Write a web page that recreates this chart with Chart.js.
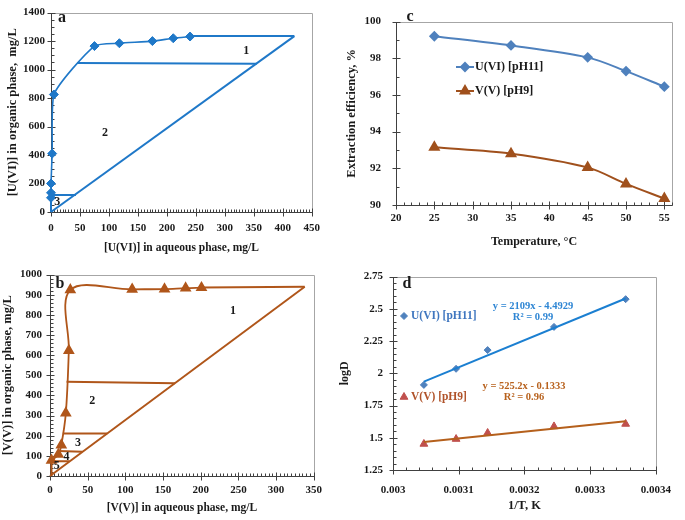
<!DOCTYPE html>
<html>
<head>
<meta charset="utf-8">
<script src="https://cdn.jsdelivr.net/npm/chart.js@4.4.1/dist/chart.umd.min.js"></script>
<style>
  html, body { margin: 0; padding: 0; background: #fff; }
  #page { position: relative; width: 685px; height: 520px; overflow: hidden; }
  .panel { position: absolute; }
</style>
</head>
<body>
<div id="page">
  <canvas id="chartA" class="panel" width="330" height="260" style="left:0;top:0;width:330px;height:260px"></canvas>
  <canvas id="chartC" class="panel" width="355" height="260" style="left:330px;top:0;width:355px;height:260px"></canvas>
  <canvas id="chartB" class="panel" width="330" height="260" style="left:0;top:260px;width:330px;height:260px"></canvas>
  <canvas id="chartD" class="panel" width="355" height="260" style="left:330px;top:260px;width:355px;height:260px"></canvas>
</div>
<script>
// --- panel a: U(VI) isotherm + operating line
const aEqX = [0, 0, 0, 2, 5, 75, 118, 175, 211, 240];
const aEqY = [100, 135, 200, 410, 825, 1165, 1185, 1200, 1220, 1232];
const aOpX = [0, 420];
const aOpY = [0, 1235];
const aStep1X = [240, 420];
const aStep1Y = [1235, 1235];
const aStep2X = [45, 355];
const aStep2Y = [1046, 1040];
const aStep3X = [0, 0, 43];
const aStep3Y = [0, 120, 120];
const aXTicks = [0, 50, 100, 150, 200, 250, 300, 350, 400, 450];
const aYTicks = [0, 200, 400, 600, 800, 1000, 1200, 1400];

// --- panel b: V(V) isotherm + operating line
const bEqX = [2, 11, 15, 21, 25, 27, 109, 152, 180, 201];
const bEqY = [78, 107, 154, 312, 623, 924, 927, 928, 933, 935];
const bOpX = [0, 338];
const bOpY = [0, 940];
const bStep1X = [201, 338];
const bStep1Y = [936, 940];
const bStep2X = [22, 166];
const bStep2Y = [468, 461];
const bStep3X = [17, 76];
const bStep3Y = [211, 211];
const bStep4X = [11, 43];
const bStep4Y = [124, 121];
const bStep5X = [2, 2, 26];
const bStep5Y = [0, 73, 73];
const bXTicks = [0, 50, 100, 150, 200, 250, 300, 350];
const bYTicks = [0, 100, 200, 300, 400, 500, 600, 700, 800, 900, 1000];

// --- panel c: extraction efficiency vs temperature
const cTemp = [25, 35, 45, 50, 55];
const cU = [99.2, 98.7, 98.05, 97.3, 96.45];
const cV = [93.15, 92.8, 92.05, 91.15, 90.35];
const cXTicks = [20, 25, 30, 35, 40, 45, 50, 55];
const cYTicks = [90, 92, 94, 96, 98, 100];

// --- panel d: logD vs 1/T
const dInvT = [0.003047, 0.003096, 0.003144, 0.003245, 0.003354];
const dU = [1.91, 2.035, 2.18, 2.36, 2.575];
const dV = [1.452, 1.49, 1.537, 1.588, 1.607];
const dTrendX = [0.003047, 0.003354];
const dUTrend = [1.935, 2.58];
const dVTrend = [1.468, 1.628];
const dXTicks = [0.003, 0.0031, 0.0032, 0.0033, 0.0034];
const dXLabels = ['0.003', '0.0031', '0.0032', '0.0033', '0.0034'];
const dYTicks = [1.25, 1.5, 1.75, 2, 2.25, 2.5, 2.75];
const dYLabels = ['1.25', '1.5', '1.75', '2', '2.25', '2.5', '2.75'];

const SERIF = '"Liberation Serif", "Times New Roman", serif';
Chart.defaults.font.family = SERIF;
Chart.defaults.font.weight = 'bold';
Chart.defaults.color = '#1a1a1a';

const xy = (xs, ys) => xs.map((x, i) => ({ x: x, y: ys[i] }));

// Excel-like frame: black axes, grey box, crossing major ticks, inside minor ticks
const excelFrame = {
    id: 'excelFrame',
    beforeDatasetsDraw(chart, args, opts) {
        const { ctx, chartArea: a, scales: { x, y } } = chart;
        const L = Math.round(a.left) + 0.5, R = Math.round(a.right) + 0.5;
        const T = Math.round(a.top) + 0.5, B = Math.round(a.bottom) + 0.5;
        ctx.save();
        ctx.lineWidth = 1;
        ctx.strokeStyle = '#a6a6a6';
        ctx.beginPath();
        ctx.moveTo(L, T); ctx.lineTo(R, T); ctx.lineTo(R, B);
        ctx.stroke();
        ctx.strokeStyle = '#404040';
        ctx.beginPath();
        ctx.moveTo(L, T); ctx.lineTo(L, B); ctx.lineTo(R, B);
        x.ticks.forEach(t => {
            const p = Math.round(x.getPixelForValue(t.value)) + 0.5;
            ctx.moveTo(p, B - 4); ctx.lineTo(p, B + 4);
        });
        y.ticks.forEach(t => {
            const p = Math.round(y.getPixelForValue(t.value)) + 0.5;
            ctx.moveTo(L - 4, p); ctx.lineTo(L + 4, p);
        });
        const eps = 1e-6;
        for (let i = 0; ; i++) {
            const v = x.min + i * opts.minorX;
            if (v > x.max + opts.minorX * eps) break;
            const p = Math.round(x.getPixelForValue(v)) + 0.5;
            ctx.moveTo(p, B); ctx.lineTo(p, B - 3);
        }
        for (let i = 0; ; i++) {
            const v = y.min + i * opts.minorY;
            if (v > y.max + opts.minorY * eps) break;
            const p = Math.round(y.getPixelForValue(v)) + 0.5;
            ctx.moveTo(L, p); ctx.lineTo(L + 3, p);
        }
        ctx.stroke();
        ctx.restore();
    }
};

// free text, stage numbers and the in-plot legends
const notes = {
    id: 'notes',
    afterDatasetsDraw(chart, args, opts) {
        const { ctx, scales } = chart;
        (opts.items || []).forEach(n => {
            let px = n.x, py = n.y;
            if (n.data) {
                px = scales.x.getPixelForValue(n.x);
                py = scales.y.getPixelForValue(n.y);
            }
            ctx.save();
            if (n.lineFrom !== undefined) {
                ctx.strokeStyle = n.markColor;
                ctx.lineWidth = 2;
                ctx.beginPath();
                ctx.moveTo(n.lineFrom, py); ctx.lineTo(n.lineTo, py);
                ctx.stroke();
            }
            if (n.marker) {
                ctx.fillStyle = n.markColor;
                ctx.strokeStyle = n.markColor;
                Chart.helpers.drawPoint(ctx, { pointStyle: n.marker, radius: n.markSize || 4, rotation: 0, borderWidth: 1 }, n.markX, py);
            }
            ctx.font = n.font || ('bold 12px ' + SERIF);
            ctx.fillStyle = n.color || '#1a1a1a';
            ctx.textAlign = n.align || 'center';
            ctx.textBaseline = 'middle';
            ctx.fillText(n.text, px, py);
            ctx.restore();
        });
    }
};

Chart.register(excelFrame, notes);

function makeAxis(cfg) {
    const isX = cfg.pos === 'x';
    return {
        type: 'linear',
        position: isX ? 'bottom' : 'left',
        min: cfg.min,
        max: cfg.max,
        afterBuildTicks: s => { s.ticks = cfg.ticks.map(v => ({ value: v })); },
        afterFit: s => { if (isX) s.height = cfg.size; else s.width = cfg.size; },
        grid: { display: false, drawTicks: false },
        border: { display: false },
        ticks: {
            autoSkip: false,
            maxRotation: 0,
            padding: cfg.tickPad,
            font: { size: 11, weight: 'bold' },
            color: '#1a1a1a',
            callback: cfg.labels ? ((v, i) => cfg.labels[i]) : (v => String(v))
        },
        title: {
            display: true,
            text: cfg.title,
            font: { size: cfg.titleSize || 12, weight: 'bold' },
            color: '#1a1a1a',
            padding: isX ? { top: 0, bottom: cfg.titlePad } : { top: cfg.titlePad, bottom: 0 }
        }
    };
}

function lineSet(data, color, width, extra) {
    return Object.assign({
        data: data,
        showLine: true,
        borderColor: color,
        backgroundColor: color,
        borderWidth: width,
        pointRadius: 0,
        tension: 0,
        clip: false
    }, extra || {});
}

function markSet(data, color, style, radius) {
    return { data: data, pointStyle: style, pointRadius: radius, backgroundColor: color, borderColor: color, clip: false };
}

function baseOptions(pad, xAxis, yAxis, frame, items) {
    return {
        responsive: false,
        animation: false,
        layout: { padding: pad },
        scales: { x: xAxis, y: yAxis },
        plugins: {
            legend: { display: false },
            tooltip: { enabled: false },
            excelFrame: frame,
            notes: { items: items }
        }
    };
}

const A_BLUE = '#1f78c8';
const B_BROWN = '#b0561a';

// panel a
new Chart(document.getElementById('chartA'), {
    type: 'scatter',
    data: {
        datasets: [
            lineSet(xy(aOpX, aOpY), A_BLUE, 2),
            lineSet(xy(aStep1X, aStep1Y), A_BLUE, 2),
            lineSet(xy(aStep2X, aStep2Y), A_BLUE, 2),
            lineSet(xy(aStep3X, aStep3Y), A_BLUE, 2),
            lineSet(xy(aEqX, aEqY), A_BLUE, 1.6, { tension: 0.2 }),
            markSet(xy(aEqX, aEqY), A_BLUE, 'rectRot', 4.5)
        ]
    },
    options: baseOptions({ top: 7, right: 17, left: 0, bottom: 0 },
        makeAxis({ pos: 'x', min: 0, max: 450, ticks: aXTicks, size: 48, tickPad: 10, title: '[U(VI)] in aqueous phase, mg/L', titleSize: 11.5, titlePad: 5 }),
        makeAxis({ pos: 'y', min: 0, max: 1400, ticks: aYTicks, size: 51, tickPad: 6, title: '[U(VI)] in organic phase,  mg/L', titleSize: 12.5, titlePad: 5 }),
        { minorX: 5, minorY: 50 },
        [
            { text: 'a', x: 62, y: 18, font: 'bold 16px ' + SERIF },
            { text: '1', x: 337, y: 1130, data: true },
            { text: '2', x: 93, y: 555, data: true },
            { text: '3', x: 11, y: 73, data: true }
        ])
});

// panel b
new Chart(document.getElementById('chartB'), {
    type: 'scatter',
    data: {
        datasets: [
            lineSet(xy(bOpX, bOpY), B_BROWN, 2),
            lineSet(xy(bStep1X, bStep1Y), B_BROWN, 2),
            lineSet(xy(bStep2X, bStep2Y), B_BROWN, 2),
            lineSet(xy(bStep3X, bStep3Y), B_BROWN, 2),
            lineSet(xy(bStep4X, bStep4Y), B_BROWN, 2),
            lineSet(xy(bStep5X, bStep5Y), B_BROWN, 2),
            lineSet(xy(bEqX, bEqY), B_BROWN, 1.8, { tension: 0.35, pointStyle: 'triangle', pointRadius: 5 })
        ]
    },
    options: baseOptions({ top: 11, right: 15, left: 0, bottom: 0 },
        makeAxis({ pos: 'x', min: 0, max: 350, ticks: bXTicks, size: 44, tickPad: 8, title: '[V(V)] in aqueous phase, mg/L', titleSize: 11.5, titlePad: 5 }),
        makeAxis({ pos: 'y', min: 0, max: 1000, ticks: bYTicks, size: 50, tickPad: 8, title: '[V(V)] in organic phase, mg/L', titleSize: 12.5, titlePad: 0 }),
        { minorX: 5, minorY: 20 },
        [
            { text: 'b', x: 60, y: 24, font: 'bold 16px ' + SERIF },
            { text: '1', x: 243, y: 818, data: true },
            { text: '2', x: 56, y: 371, data: true },
            { text: '3', x: 37, y: 163, data: true },
            { text: '4', x: 22, y: 94, data: true },
            { text: '5', x: 9, y: 49, data: true }
        ])
});

// panel c
const C_U = '#4f81bd';
const C_V = '#a0501c';
new Chart(document.getElementById('chartC'), {
    type: 'scatter',
    data: {
        datasets: [
            lineSet(xy(cTemp, cU), C_U, 2, { tension: 0.3, pointStyle: 'rectRot', pointRadius: 4 }),
            lineSet(xy(cTemp, cV), C_V, 2, { tension: 0.3, pointStyle: 'triangle', pointRadius: 5 })
        ]
    },
    options: baseOptions({ top: 7, right: 13, left: 0, bottom: 0 },
        makeAxis({ pos: 'x', min: 20, max: 56, ticks: cXTicks, size: 55, tickPad: 7, title: 'Temperature, °C', titleSize: 12, titlePad: 11 }),
        makeAxis({ pos: 'y', min: 90, max: 100, ticks: cYTicks, size: 66, tickPad: 15, title: 'Extraction efficiency, %', titleSize: 12.5, titlePad: 14 }),
        { minorX: 1, minorY: 1 },
        [
            { text: 'c', x: 80, y: 17, font: 'bold 16px ' + SERIF },
            { text: 'U(VI) [pH11]', x: 145, y: 67, align: 'left', lineFrom: 126, lineTo: 144, marker: 'rectRot', markX: 135, markColor: C_U, markSize: 4 },
            { text: 'V(V) [pH9]', x: 145, y: 91, align: 'left', lineFrom: 126, lineTo: 144, marker: 'triangle', markX: 135, markColor: C_V, markSize: 5 }
        ])
});

// panel d
const D_U_PT = '#4f81bd';
const D_U_LINE = '#1b7fd1';
const D_V_PT = '#c0504d';
const D_V_LINE = '#b5601c';
new Chart(document.getElementById('chartD'), {
    type: 'scatter',
    data: {
        datasets: [
            lineSet(xy(dTrendX, dUTrend), D_U_LINE, 2),
            lineSet(xy(dTrendX, dVTrend), D_V_LINE, 2),
            markSet(xy(dInvT, dU), D_U_PT, 'rectRot', 3.5),
            markSet(xy(dInvT, dV), D_V_PT, 'triangle', 4.5)
        ]
    },
    options: baseOptions({ top: 11, right: 17, left: 0, bottom: 0 },
        makeAxis({ pos: 'x', min: 0.003, max: 0.0034, ticks: dXTicks, labels: dXLabels, size: 50, tickPad: 14, title: '1/T, K', titleSize: 12.5, titlePad: 7 }),
        makeAxis({ pos: 'y', min: 1.25, max: 2.75, ticks: dYTicks, labels: dYLabels, size: 63, tickPad: 10, title: 'logD', titleSize: 12, titlePad: 8 }),
        { minorX: 0.00002, minorY: 0.05 },
        [
            { text: 'd', x: 77, y: 24, font: 'bold 16px ' + SERIF },
            { text: 'U(VI) [pH11]', x: 81, y: 56, align: 'left', color: '#3f76bf', font: 'bold 11.5px ' + SERIF, marker: 'rectRot', markX: 74, markColor: D_U_PT, markSize: 3.5 },
            { text: 'V(V) [pH9]', x: 81, y: 137, align: 'left', color: '#b0532a', font: 'bold 11.5px ' + SERIF, marker: 'triangle', markX: 74, markColor: D_V_PT, markSize: 4.5 },
            { text: 'y = 2109x - 4.4929', x: 203, y: 46, color: '#2f86d4', font: 'bold 10.5px ' + SERIF },
            { text: 'R² = 0.99', x: 203, y: 57, color: '#2f86d4', font: 'bold 10.5px ' + SERIF },
            { text: 'y = 525.2x - 0.1333', x: 194, y: 126, color: '#b8621e', font: 'bold 10.5px ' + SERIF },
            { text: 'R² = 0.96', x: 194, y: 137, color: '#b8621e', font: 'bold 10.5px ' + SERIF }
        ])
});
</script>
</body>
</html>
